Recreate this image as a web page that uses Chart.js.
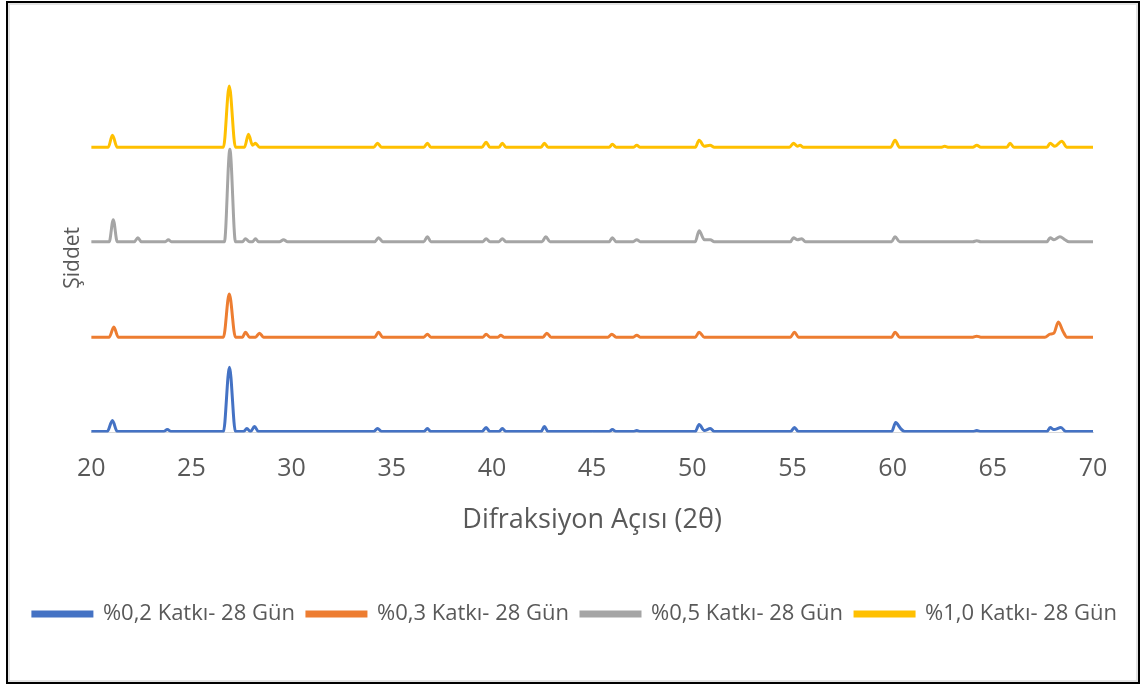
<!DOCTYPE html>
<html>
<head>
<meta charset="utf-8">
<script src="https://cdn.jsdelivr.net/npm/chart.js@4"></script>
<style>
  body { margin: 0; background: #fff; }
  #frame {
    position: absolute; left: 6px; top: 1px;
    width: 1130px; height: 679px;
    border: 2px solid #000;
    box-shadow: inset 0 0 0 2px #e3e3e3;
  }
  #chart { position: absolute; left: 0; top: 0; }
</style>
</head>
<body>
<div id="frame"></div>
<canvas id="chart" width="1142" height="686"></canvas>
<script>
// Diffraction angle (2θ) and stacked intensity for each sample
const angles02 = [20, 20.8, 21.06, 21.3, 23.6, 23.8, 24.0, 26.6, 26.9, 27.2, 27.6, 27.77, 27.95, 28.15, 28.35,
  34.1, 34.29, 34.5, 36.6, 36.78, 36.95, 39.5, 39.71, 39.9, 40.35, 40.52, 40.7, 42.45, 42.62, 42.8,
  45.85, 46.01, 46.2, 47.05, 47.23, 47.4, 50.15, 50.34, 50.6, 50.9, 51.1, 54.9, 55.1, 55.3,
  59.95, 60.15, 60.4, 60.6, 64.0, 64.2, 64.4, 67.7, 67.86, 68.05, 68.4, 68.65, 70];
const counts02 = [1, 1, 12, 1, 1, 3, 1, 1, 65, 1, 1, 4, 1, 6, 1,
  1, 4, 1, 1, 4, 1, 1, 5, 1, 1, 4, 1, 1, 6, 1,
  1, 3, 1, 1, 2, 1, 1, 8, 2, 4, 1, 1, 5, 1,
  1, 10, 4, 1, 1, 2, 1, 1, 5, 3, 5, 1, 1];

const angles03 = [20, 20.9, 21.13, 21.35, 26.6, 26.89, 27.2, 27.55, 27.7, 27.9, 28.2, 28.4, 28.6,
  34.15, 34.34, 34.55, 36.6, 36.78, 36.95, 39.55, 39.71, 39.9, 40.3, 40.44, 40.6, 42.55, 42.74, 42.95,
  45.8, 45.98, 46.2, 47.05, 47.23, 47.4, 50.15, 50.34, 50.6, 54.9, 55.1, 55.3,
  59.95, 60.12, 60.35, 64.0, 64.2, 64.4, 67.6, 67.86, 68.05, 68.27, 68.5, 68.7, 70];
const counts03 = [95, 95, 105, 95, 95, 138, 95, 95, 100, 95, 95, 99, 95,
  95, 100, 95, 95, 98, 95, 95, 98, 95, 95, 97, 95, 95, 99, 95,
  95, 98, 95, 95, 97, 95, 95, 100, 95, 95, 100, 95,
  95, 100, 95, 95, 96, 95, 95, 98, 99, 110, 101, 95, 95];

const angles05 = [20, 20.9, 21.1, 21.3, 22.15, 22.33, 22.5, 23.7, 23.85, 24.0, 26.65, 26.92, 27.2,
  27.55, 27.7, 27.9, 28.05, 28.2, 28.35, 29.4, 29.6, 29.8, 34.15, 34.34, 34.55, 36.6, 36.78, 36.95,
  39.55, 39.71, 39.9, 40.35, 40.52, 40.7, 42.5, 42.69, 42.9, 45.85, 46.01, 46.2, 47.05, 47.23, 47.4,
  50.15, 50.34, 50.6, 50.9, 51.1, 54.9, 55.05, 55.25, 55.46, 55.65, 59.95, 60.12, 60.35,
  64.0, 64.2, 64.4, 67.7, 67.86, 68.05, 68.35, 68.6, 68.8, 70];
const counts05 = [190, 190, 212, 190, 190, 194, 190, 190, 192, 190, 190, 282, 190,
  190, 193, 190, 190, 193, 190, 190, 192, 190, 190, 194, 190, 190, 195, 190,
  190, 193, 190, 190, 193, 190, 190, 195, 190, 190, 194, 190, 190, 192, 190,
  190, 201, 192, 192, 190, 190, 194, 192, 193, 190, 190, 195, 190,
  190, 191, 190, 190, 194, 192, 195, 192, 190, 190];

const angles10 = [20, 20.85, 21.06, 21.3, 26.6, 26.89, 27.2, 27.65, 27.85, 28.05, 28.2, 28.4,
  34.1, 34.29, 34.5, 36.6, 36.78, 36.95, 39.5, 39.71, 39.9, 40.35, 40.52, 40.7, 42.45, 42.62, 42.8,
  45.85, 46.01, 46.2, 47.05, 47.23, 47.4, 50.15, 50.34, 50.6, 50.89, 51.1, 54.85, 55.05, 55.25, 55.38, 55.55,
  59.9, 60.12, 60.35, 62.4, 62.6, 62.8, 64.0, 64.2, 64.4, 65.7, 65.86, 66.05, 67.7, 67.86, 68.1, 68.44, 68.7, 70];
const counts10 = [284, 284, 296, 284, 284, 345, 284, 284, 297, 286, 288, 284,
  284, 288, 284, 284, 288, 284, 284, 289, 284, 284, 288, 284, 284, 288, 284,
  284, 287, 284, 284, 286, 284, 284, 291, 285, 286, 284, 284, 288, 285, 286, 284,
  284, 291, 284, 284, 285, 284, 284, 286, 284, 284, 288, 284, 284, 288, 285, 290, 284, 284];

const seriesNames = ['%0,2 Katkı- 28 Gün', '%0,3 Katkı- 28 Gün', '%0,5 Katkı- 28 Gün', '%1,0 Katkı- 28 Gün'];
const seriesColors = ['#4472C4', '#ED7D31', '#A5A5A5', '#FFC000'];
const xTicks = [20, 25, 30, 35, 40, 45, 50, 55, 60, 65, 70];

const textColor = '#595959';
const fontFamily = '"Open Sans", sans-serif';

function toPoints(xs, ys) {
    return xs.map((x, i) => ({ x: x, y: ys[i] }));
}

const allAngles = [angles02, angles03, angles05, angles10];
const allCounts = [counts02, counts03, counts05, counts10];

const datasets = seriesNames.map((name, i) => ({
    label: name,
    data: toPoints(allAngles[i], allCounts[i]),
    borderColor: seriesColors[i],
    backgroundColor: seriesColors[i],
    borderWidth: 3,
    pointRadius: 0,
    showLine: true,
    cubicInterpolationMode: 'monotone'
}));

new Chart(document.getElementById('chart'), {
    type: 'scatter',
    data: { datasets: datasets },
    options: {
        responsive: false,
        animation: false,
        layout: { padding: { top: 83, left: 14, right: 6, bottom: 51 } },
        plugins: {
            tooltip: { enabled: false },
            legend: {
                position: 'bottom',
                labels: {
                    color: textColor,
                    font: { family: fontFamily, size: 22 },
                    boxWidth: 59,
                    boxHeight: 4,
                    padding: 12
                }
            }
        },
        scales: {
            x: {
                type: 'linear',
                min: 20,
                max: 70,
                afterBuildTicks: axis => { axis.ticks = xTicks.map(v => ({ value: v })); },
                grid: { display: false, drawTicks: false },
                border: { display: true, color: '#d9d9d9', width: 1 },
                ticks: { color: textColor, font: { family: fontFamily, size: 25 }, padding: 21 },
                title: {
                    display: true,
                    text: 'Difraksiyon Açısı (2θ)',
                    color: textColor,
                    font: { family: fontFamily, size: 27 },
                    padding: { top: 0, bottom: 54 }
                }
            },
            y: {
                min: 0,
                max: 348,
                grid: { display: false, drawTicks: false },
                border: { display: false },
                ticks: { display: false },
                title: {
                    display: true,
                    text: 'Şiddet',
                    color: textColor,
                    font: { family: fontFamily, size: 21 },
                    padding: { top: 46, bottom: 6 }
                }
            },
            // empty right-hand axis, only reserves the margin after x = 70
            yRight: {
                position: 'right',
                grid: { display: false, drawTicks: false },
                border: { display: false },
                ticks: { display: false },
                afterFit: axis => { axis.width = 43; }
            }
        }
    }
});
</script>
</body>
</html>
